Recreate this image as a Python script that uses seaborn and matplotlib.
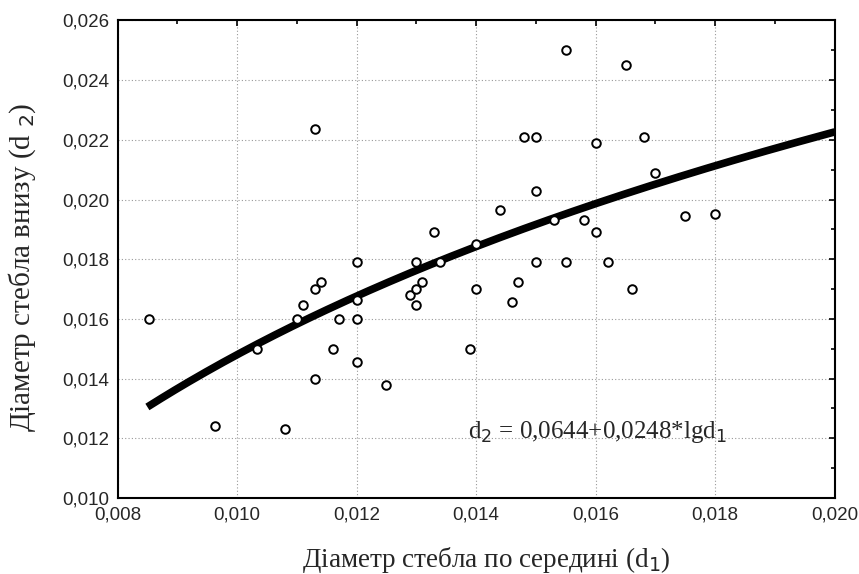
import numpy as np
import pandas as pd
import matplotlib
matplotlib.use("Agg")
import matplotlib.pyplot as plt
import seaborn as sns
from matplotlib.ticker import MultipleLocator, FuncFormatter

# Observed data (d1 = middle diameter, d2 = lower diameter)
d1 = [0.00853, 0.00963, 0.01033, 0.0108, 0.0110, 0.0111, 0.0113, 0.0113, 0.0113,
      0.0114, 0.0116, 0.0117, 0.0120, 0.0120, 0.0120, 0.0120, 0.0125, 0.0129,
      0.0130, 0.0130, 0.0130, 0.0131, 0.0133, 0.0134, 0.0139, 0.0140, 0.0140,
      0.0144, 0.0146, 0.0147, 0.0148, 0.0150, 0.0150, 0.0150, 0.0153, 0.0155,
      0.0155, 0.0158, 0.0160, 0.0160, 0.0162, 0.0165, 0.0166, 0.0168, 0.0170,
      0.0175, 0.0180]
d2 = [0.0160, 0.01242, 0.0150, 0.0123, 0.0160, 0.01645, 0.02235, 0.0170, 0.0140,
      0.01725, 0.0150, 0.0160, 0.0179, 0.01665, 0.0160, 0.01455, 0.0138, 0.0168,
      0.0179, 0.0170, 0.01645, 0.01725, 0.0189, 0.0179, 0.0150, 0.0185, 0.0170,
      0.01965, 0.01655, 0.01725, 0.0221, 0.0221, 0.0203, 0.0179, 0.0193, 0.0250,
      0.0179, 0.0193, 0.0219, 0.0189, 0.0179, 0.0245, 0.0170, 0.0221, 0.0209,
      0.01945, 0.0195]

# Fitted model shown on the chart: d2 = 0.0644 + 0.0248*lg(d1)
a_coef = 0.0644
b_coef = 0.0248
fit_range = [0.0085, 0.0200]

x_ticks = [0.008, 0.010, 0.012, 0.014, 0.016, 0.018, 0.020]
y_ticks = [0.010, 0.012, 0.014, 0.016, 0.018, 0.020, 0.022, 0.024, 0.026]

df = pd.DataFrame({"d1": d1, "d2": d2})
xf = np.linspace(fit_range[0], fit_range[1], 200)
fit = pd.DataFrame({"d1": xf, "d2": a_coef + b_coef * np.log10(xf)})

sns.set_style("white")
plt.rcParams["font.family"] = ["Liberation Sans", "DejaVu Sans"]

fig = plt.figure(figsize=(8.59, 5.74), dpi=100)
ax = fig.add_axes([0.1368, 0.1324, 0.835, 0.832])

sns.lineplot(data=fit, x="d1", y="d2", ax=ax, color="black", linewidth=5.5,
             solid_capstyle="butt", zorder=3)
sns.scatterplot(data=df, x="d1", y="d2", ax=ax, marker="o", s=38,
                facecolor="white", edgecolor="black", linewidth=1.4, zorder=4)

ax.set_xlim(x_ticks[0], x_ticks[-1])
ax.set_ylim(y_ticks[0], y_ticks[-1])
ax.set_xticks(x_ticks)
ax.set_yticks(y_ticks)
ax.xaxis.set_minor_locator(MultipleLocator(0.001))
ax.yaxis.set_minor_locator(MultipleLocator(0.001))
fmt = FuncFormatter(lambda v, p: f"{v:.3f}".replace(".", ","))
ax.xaxis.set_major_formatter(fmt)
ax.yaxis.set_major_formatter(fmt)

ax.tick_params(which="both", direction="in", top=True, right=True,
               length=4, width=1.2, color="black", labelsize=13.5, pad=6)
ax.tick_params(which="minor", length=3)

ax.grid(True, which="major", color="#999999", linestyle=(0, (1, 2)), linewidth=0.8)
for s in ax.spines.values():
    s.set_color("black")
    s.set_linewidth(1.5)

ax.set_xlabel("Діаметр стебла по середині (d$_1$)", family=["Liberation Serif"],
              fontsize=19.5)
ax.set_ylabel("Діаметр стебла внизу (d $_2$)", family=["Liberation Serif"],
              fontsize=21)
ax.xaxis.set_label_coords(0.514, -0.098, transform=ax.transAxes)
ax.yaxis.set_label_coords(-0.111, 0.483, transform=ax.transAxes)

ax.text(0.01386, 0.0120, "d$_2$ = 0,0644+0,0248*lgd$_1$", family=["Liberation Serif"],
        fontsize=18, va="baseline", ha="left", zorder=5)

fig.savefig("out.png", dpi=100)
